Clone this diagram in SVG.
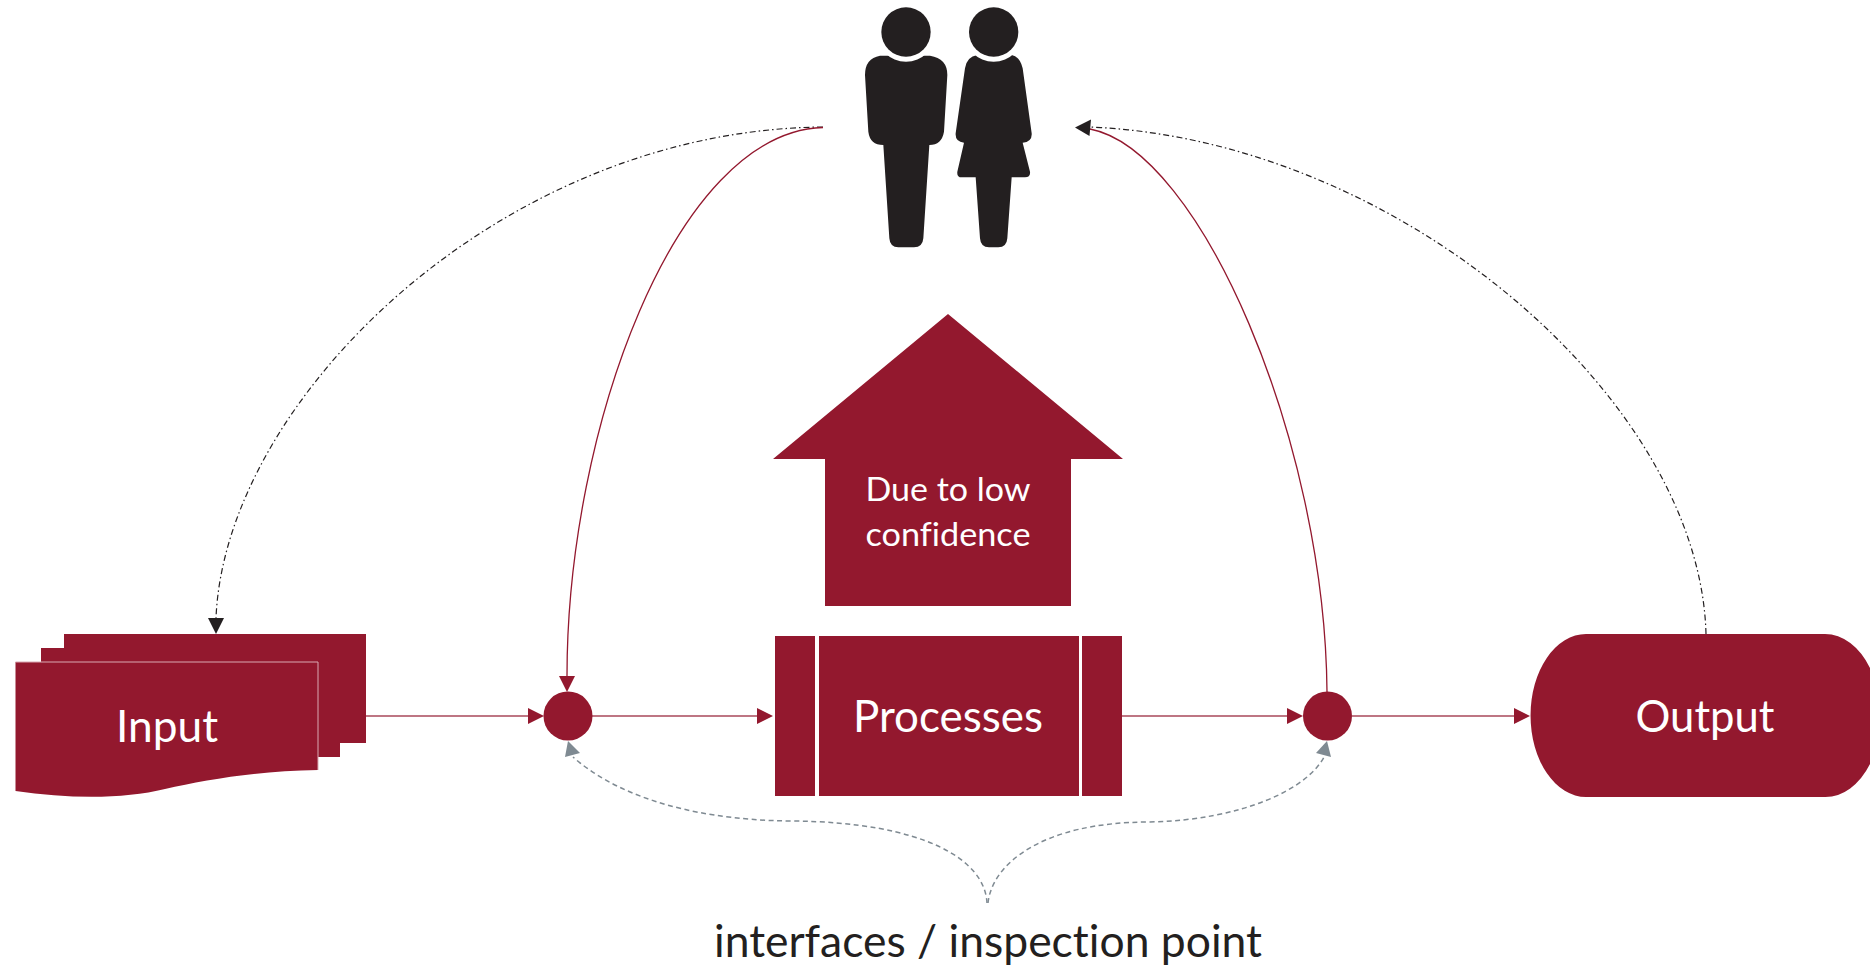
<svg xmlns="http://www.w3.org/2000/svg" width="1870" height="965" viewBox="0 0 1870 965">
<style>
.f{fill:#93182e}
.t{font-family:"Lato","Open Sans","Liberation Sans",sans-serif;fill:#fff;text-anchor:middle;font-variant-ligatures:none}
.r{fill:none;stroke:#93182e;stroke-width:1.3}
.h{fill:none;stroke:#a94a5b;stroke-width:1.6}
.k{fill:none;stroke:#231f20;stroke-width:1.2;stroke-dasharray:6 3 1.5 3}
.g{fill:none;stroke:#7f8a92;stroke-width:1.5;stroke-dasharray:5 3.500}
</style>
<rect width="1870" height="965" fill="#fff"/>
<g id="connectors">
<path class="k" d="M823 127C500 130 225 400 216 618"/>
<path class="k" d="M1706 634C1700 400 1400 140 1090 127"/>
<path class="r" d="M823 127.500C675 132 567 430 567 676"/>
<path class="r" d="M1327 692C1325 440 1200 150 1090 129"/>
<path class="h" d="M366 716H528M592 716H757M1122 716H1287M1352 716H1514"/>
<path class="g" d="M987 903C985 860 925 822 791 821C680 820 610 790 573 757"/>
<path class="g" d="M988 903C992 865 1040 822 1150 822C1240 820 1310 790 1326 753"/>
<g class="f">
<path d="M528 708L544 716L528 724Z"/>
<path d="M757 708L773 716L757 724Z"/>
<path d="M1287 708L1303 716L1287 724Z"/>
<path d="M1514 708L1530 716L1514 724Z"/>
<path d="M559 676H575L567 692Z"/>
</g>
<path fill="#231f20" d="M208 618H224L216 634Z"/>
<path fill="#231f20" d="M1091 119.500L1075 127.500L1089.500 136Z"/>
<path fill="#7f8a92" d="M568 741L580 753L565 757Z"/>
<path fill="#7f8a92" d="M1327 741L1331 757L1316 753Z"/>
</g>
<g id="people" fill="#231f20" transform="translate(840 0) scale(.33333)">
<path d="M120 167H270Q322 175 322 225L312 395Q305 435 268 435L250 715Q248 742 222 742L175 742Q150 742 148 715L130 435Q90 435 85 395L75 225Q75 175 120 167Z"/>
<path d="M412 165H515Q540 170 548 205L575 400Q577 425 548 428L570 515Q572 532 555 532L515 532L502 715Q500 742 475 742L447 742Q422 742 420 715L407 532L365 532Q350 532 352 515L372 428Q345 425 347 400L375 205Q380 170 412 165Z"/>
<circle cx="198" cy="96" r="89" fill="#fff"/>
<circle cx="461" cy="96" r="89" fill="#fff"/>
<circle cx="198" cy="96" r="74"/>
<circle cx="461" cy="96" r="74"/>
</g>
<g id="input">
<path class="f" d="M64 634H366V743H340V757H300V662H41V648H64Z"/>
<path class="f" d="M15.500 662H318V770C255 771 205 780 165 789C125 799 70 799 15.500 791Z"/>
<path fill="none" stroke="#d9a9b2" stroke-width="1" d="M15.500 662H318V770"/>
<text class="t" x="167" y="742" font-size="44" textLength="102" lengthAdjust="spacingAndGlyphs">Input</text>
</g>
<circle id="inspection-1" class="f" cx="568" cy="716" r="24.500"/>
<g id="processes">
<rect class="f" x="775" y="636" width="40" height="160"/>
<rect class="f" x="819" y="636" width="260" height="160"/>
<rect class="f" x="1082" y="636" width="40" height="160"/>
<text class="t" x="948" y="732" font-size="44" textLength="190" lengthAdjust="spacingAndGlyphs">Processes</text>
</g>
<circle id="inspection-2" class="f" cx="1327.500" cy="716" r="24.500"/>
<g id="output">
<path class="f" d="M1586 634H1825A55.500 81.500 0 0 1 1870 668V764A55.500 81.500 0 0 1 1825 797H1586A55.500 81.500 0 0 1 1586 634Z"/>
<text class="t" x="1705" y="732" font-size="44" textLength="139" lengthAdjust="spacingAndGlyphs">Output</text>
</g>
<g id="due-arrow">
<path class="f" d="M948 314L1123 459H1071V606H825V459H773Z"/>
<text class="t" x="948" y="501" font-size="32" textLength="165" lengthAdjust="spacingAndGlyphs">Due to low</text>
<text class="t" x="948" y="546" font-size="32" textLength="165" lengthAdjust="spacingAndGlyphs">confidence</text>
</g>
<text id="caption" x="988" y="957" font-family="Lato,'Open Sans','Liberation Sans',sans-serif" font-size="44" fill="#231f20" text-anchor="middle" textLength="548" lengthAdjust="spacingAndGlyphs" style="font-variant-ligatures:none">interfaces / inspection point</text>
</svg>
